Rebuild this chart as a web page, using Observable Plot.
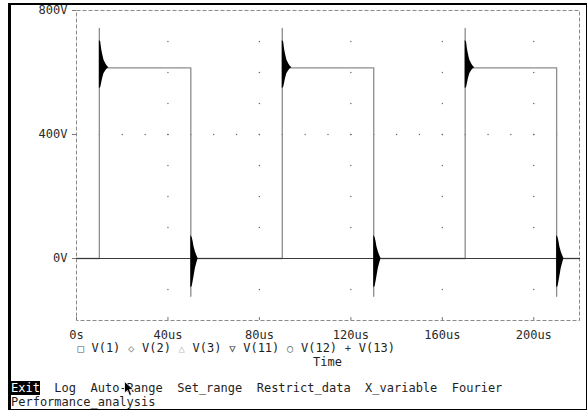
<!DOCTYPE html>
<html><head><meta charset="utf-8">
<script src="https://cdn.jsdelivr.net/npm/d3@7"></script>
<script src="https://cdn.jsdelivr.net/npm/@observablehq/plot@0.6"></script>
<style>
body{margin:0;background:#fff;}
#wrap{position:relative;width:588px;height:410px;overflow:hidden;font-family:"DejaVu Sans Mono",monospace;font-size:12px;color:#1e1e1e;background:#fff;}
#border{position:absolute;left:8px;top:3px;width:579px;height:407px;box-sizing:border-box;border-left:3px solid #000;border-top:2px solid #000;border-right:1px solid #000;border-bottom:1px solid #000;}
#chart{position:absolute;left:0;top:0;}
.line{position:absolute;white-space:pre;line-height:14px;}
.sym{display:inline-block;width:7.22px;text-align:center;font-size:10.5px;}
.hl{background:#000;color:#fff;}
#cursor{position:absolute;left:124px;top:381px;}
</style></head><body>
<div id="wrap">
<div id="border"></div>
<div id="chart"></div>
<div class="line" id="legend" style="left:77px;top:341px"></div>
<div class="line" id="xlabel" style="left:313px;top:355px"></div>
<div class="line" id="menu" style="left:11px;top:381px"></div>
<div class="line" id="menu2" style="left:11px;top:395px"></div>
<svg id="cursor" width="12" height="16"><polygon points="0.5,0.5 0.5,12 3.5,9.5 5.5,14.5 7.5,13.5 5.5,8.5 9.5,8.5" fill="#000" stroke="#fff" stroke-width="0.8"/></svg>
</div>
<script>
// ---- data ----
const xTicks = [0, 40, 80, 120, 160, 200];
const xTickLabels = ["0s", "40us", "80us", "120us", "160us", "200us"];
const yTicks = [0, 400, 800];
const yTickLabels = ["0V", "400V", "800V"];
const minorXGrid = [10,20,30,40,50,60,70,80,90,100,110,120,130,140,150,160,170,180,190,200,210];
const minorYGrid = [-100, 100, 200, 300, 400, 500, 600, 700];
const majorYGrid = [400];

// square-wave output (gray trace), time in us, volts
const squareT = [0, 10, 10, 10, 50, 50, 50, 90, 90, 90, 130, 130, 130, 170, 170, 170, 210, 210, 210, 220];
const squareV = [0, 0, 742, 615, 615, -122, 0, 0, 742, 615, 615, -122, 0, 0, 742, 615, 615, -122, 0, 0];

// reference trace at 0 V (dark)
const zeroT = [0, 220];
const zeroV = [0, 0];

// ringing envelopes (black), offsets in us after each edge
const riseTimes = [10, 90, 170];
const fallTimes = [50, 130, 210];
const riseOffset = [0, 0.6, 1.0, 1.4, 2.0, 2.8, 3.5, 4.2];
const riseLo = [548, 552, 565, 580, 596, 606, 612, 615];
const riseHi = [703, 698, 675, 660, 640, 628, 620, 615];
const fallOffset = [0, 0.6, 1.0, 1.4, 2.0, 2.6, 3.2];
const fallLo = [-94, -90, -75, -58, -32, -15, 0];
const fallHi = [74, 68, 55, 38, 22, 10, 0];

const seriesNames = ["V(1)", "V(2)", "V(3)", "V(11)", "V(12)", "V(13)"];
const seriesSymbols = ["□", "◇", "△", "▽", "○", "+"];
const seriesSymbolColors = ["#555", "#777", "#bbb", "#333", "#666", "#333"];
const xAxisTitle = "Time";
const menuItems = ["Exit", "Log", "Auto-Range", "Set_range", "Restrict_data", "X_variable", "Fourier"];
const menuItems2 = ["Performance_analysis"];

// ---- tables ----
const square = squareT.map((t, i) => ({t, v: squareV[i]}));
const zero = zeroT.map((t, i) => ({t, v: zeroV[i]}));
const ring = [];
riseTimes.forEach((t0, k) => riseOffset.forEach((o, i) => ring.push({event: "r" + k, t: t0 + o, lo: riseLo[i], hi: riseHi[i]})));
fallTimes.forEach((t0, k) => fallOffset.forEach((o, i) => ring.push({event: "f" + k, t: t0 + o, lo: fallLo[i], hi: fallHi[i]})));
const gridDots = [];
xTicks.filter(x => x > 0).forEach(x => minorYGrid.forEach(y => gridDots.push({t: x, v: y})));
majorYGrid.forEach(y => minorXGrid.forEach(x => gridDots.push({t: x, v: y})));

const chart = Plot.plot({
  width: 588, height: 345,
  marginLeft: 76, marginRight: 9, marginTop: 10, marginBottom: 25,
  x: {domain: [0, 220], axis: null},
  y: {domain: [-200, 800], axis: null},
  style: {fontFamily: "DejaVu Sans Mono", fontSize: "12px", background: "transparent", overflow: "visible", color: "#2a2a2a"},
  marks: [
    Plot.dot(gridDots, {x: "t", y: "v", r: 0.7, fill: "#666", stroke: null}),
    Plot.frame({stroke: "#8a8a8a", strokeDasharray: "4,2"}),
    Plot.ruleX(xTicks, {x: d => d, y1: -200, y2: -200, insetTop: -3, stroke: "#777"}),
    Plot.ruleY(yTicks, {y: d => d, x1: 0, x2: 0, insetLeft: -4, stroke: "#777"}),
    Plot.line(square, {x: "t", y: "v", stroke: "#8c8c8c", strokeWidth: 1.3}),
    Plot.line(zero, {x: "t", y: "v", stroke: "#3a3a3a", strokeWidth: 1.2}),
    Plot.areaY(ring, {x: "t", y1: "lo", y2: "hi", z: "event", fill: "#000", curve: "linear"}),
    Plot.text(xTicks, {x: d => d, y: -200, dy: 15, text: (d, i) => xTickLabels[i], fill: "#2a2a2a"}),
    Plot.text(yTicks, {x: 0, y: d => d, dx: -9, textAnchor: "end", text: (d, i) => yTickLabels[i], fill: "#2a2a2a"})
  ]
});
document.getElementById("chart").appendChild(chart);

// legend
const leg = document.getElementById("legend");
seriesNames.forEach((n, i) => {
  const s = document.createElement("span");
  s.className = "sym"; s.style.color = seriesSymbolColors[i]; s.textContent = seriesSymbols[i];
  leg.appendChild(s);
  leg.appendChild(document.createTextNode(" " + n + (i < seriesNames.length - 1 ? " " : "")));
});
document.getElementById("xlabel").textContent = xAxisTitle;
// menu
const menu = document.getElementById("menu");
menuItems.forEach((m, i) => {
  const s = document.createElement("span");
  if (i === 0) s.className = "hl";
  s.textContent = m;
  menu.appendChild(s);
  if (i < menuItems.length - 1) menu.appendChild(document.createTextNode("  "));
});
document.getElementById("menu2").textContent = menuItems2.join("  ");
</script>
</body></html>
